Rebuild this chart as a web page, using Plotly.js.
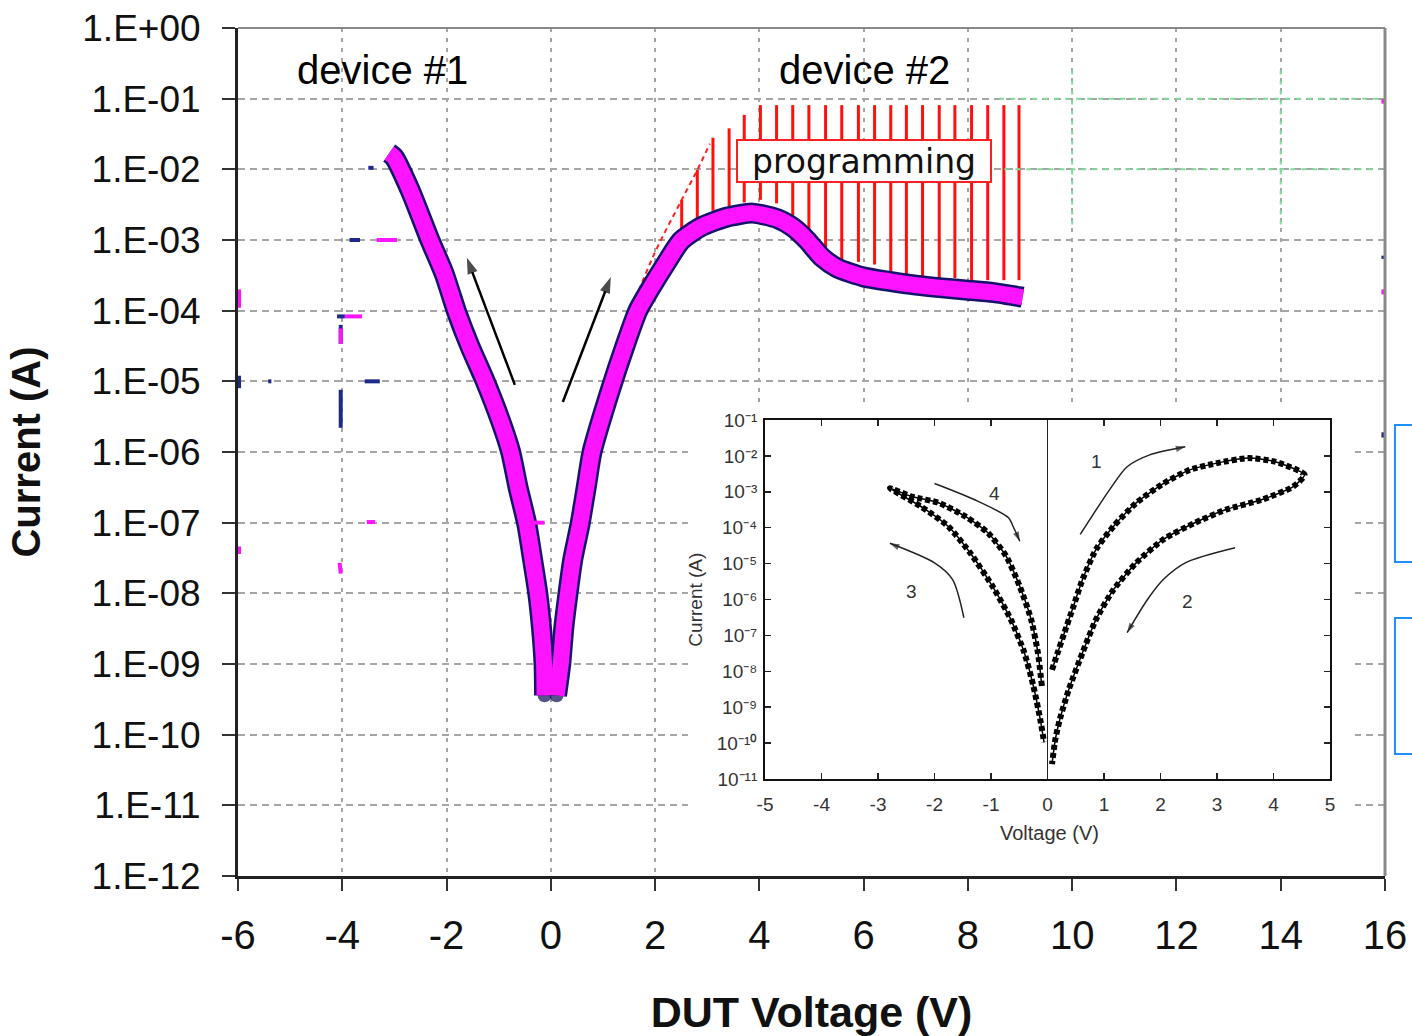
<!DOCTYPE html>
<html>
<head>
<meta charset="utf-8">
<script src="https://cdn.plot.ly/plotly-3.0.1.min.js"></script>
<style>html,body{margin:0;padding:0;background:#fff;}#chart{width:1412px;height:1036px;}</style>
</head>
<body>
<div id="chart"></div>
<script>
// ---------------- DATA ----------------
// Main plot: device sweep, negative branch (V, A)
const negSweepV = [-3.10, -3.01, -2.70, -2.32, -2.05, -1.80, -1.55, -1.27, -0.96, -0.77, -0.63, -0.46, -0.35, -0.25, -0.18, -0.13, -0.12];
const negSweepI = [1.7e-2, 1.5e-2, 5.1e-3, 1.0e-3, 3.4e-4, 9.3e-5, 3.1e-5, 1.05e-5, 2.7e-6, 1.0e-6, 3.2e-7, 9.5e-8, 3.0e-8, 1.0e-8, 3.3e-9, 1.0e-9, 3.6e-10];
// Main plot: positive branch (device #1 -> device #2 programming)
const posSweepV = [0.11, 0.19, 0.25, 0.33, 0.42, 0.56, 0.68, 0.79, 1.15, 1.43, 1.67, 1.95, 2.17, 2.50, 2.89, 3.37, 3.87, 4.35, 4.65, 4.91, 5.20, 5.50, 6.00, 6.50, 7.00, 7.50, 8.00, 8.50, 9.05];
const posSweepI = [3.6e-10, 1.0e-9, 3.3e-9, 1.0e-8, 3.0e-8, 9.5e-8, 3.2e-7, 1.0e-6, 7.9e-6, 3.3e-5, 1.0e-4, 2.3e-4, 4.2e-4, 9.8e-4, 1.55e-3, 2.1e-3, 2.4e-3, 2.0e-3, 1.5e-3, 1.0e-3, 5.7e-4, 4.0e-4, 3.0e-4, 2.6e-4, 2.3e-4, 2.1e-4, 1.95e-4, 1.8e-4, 1.55e-4];
// Red dashed compliance guide
const guideV = [0.12, 0.35, 0.70, 1.10, 1.46, 1.96, 2.51, 2.81, 3.05];
const guideI = [5.0e-10, 3.2e-8, 7.9e-7, 1.0e-5, 6.8e-5, 5.8e-4, 3.7e-3, 9.8e-3, 2.3e-2];
// Red "programming" hatch lines (V, top current, bottom current)
const hatchV = [2.51, 2.81, 3.11, 3.42, 3.71, 4.02, 4.33, 4.64, 4.95, 5.27, 5.58, 5.90, 6.21, 6.52, 6.82, 7.13, 7.45, 7.75, 8.07, 8.38, 8.69, 8.98];
const hatchTop = [3.7e-3, 9.8e-3, 2.8e-2, 3.8e-2, 5.9e-2, 8.1e-2, 8.1e-2, 8.1e-2, 8.1e-2, 8.1e-2, 8.1e-2, 8.1e-2, 8.1e-2, 8.1e-2, 8.1e-2, 8.1e-2, 8.1e-2, 8.1e-2, 8.1e-2, 8.1e-2, 8.1e-2, 8.1e-2];
const hatchBottom = [1.3e-3, 2.0e-3, 2.6e-3, 3.0e-3, 3.4e-3, 3.7e-3, 3.3e-3, 2.2e-3, 1.4e-3, 7.9e-4, 4.9e-4, 4.9e-4, 4.5e-4, 3.5e-4, 3.3e-4, 3.1e-4, 2.9e-4, 2.9e-4, 2.7e-4, 2.7e-4, 2.7e-4, 2.7e-4];
// Stray readings
const strayNavyV = [-3.86, -3.66, null, -4.10, -3.95, null, -4.03, -4.03, null, -4.03, -4.03, null, -5.42, -5.36, null, -3.57, -3.28, null, -3.50, -3.40, null, -5.98, -5.98, null, 15.97, 15.97, null, 15.97, 15.97];
const strayNavyI = [1e-3, 1e-3, null, 8.3e-5, 8.3e-5, null, 6.3e-5, 3.4e-5, null, 7.6e-6, 2.2e-6, null, 1e-5, 1e-5, null, 1e-5, 1e-5, null, 1.05e-2, 1.05e-2, null, 1.2e-5, 8e-6, null, 1.9e-6, 1.6e-6, null, 6.0e-4, 5.4e-4];
const strayMagV = [-3.34, -2.95, null, -3.95, -3.62, null, -4.03, -4.03, null, -3.53, -3.37, null, -4.05, -4.03, null, -0.36, -0.12, null, -5.98, -5.98, null, -5.98, -5.98, null, 15.97, 15.97, null, 15.97, 15.97];
const strayMagI = [1e-3, 1e-3, null, 8.3e-5, 8.3e-5, null, 5.6e-5, 3.4e-5, null, 1.02e-7, 1.02e-7, null, 2.7e-8, 1.9e-8, null, 1e-7, 1e-7, null, 2.0e-4, 1.1e-4, null, 4.6e-8, 3.6e-8, null, 0.098, 0.085, null, 2.0e-4, 1.7e-4];
// Main sweep-direction arrows (tail -> head)
const mainArrow1V = [-0.69, -1.61];
const mainArrow1I = [8.9e-6, 5.6e-4];
const mainArrow2V = [0.23, 1.15];
const mainArrow2I = [5.1e-6, 3.0e-4];
// Main axis ticks
const xTicks = [-6, -4, -2, 0, 2, 4, 6, 8, 10, 12, 14, 16];
const yTickVals = [1, 1e-1, 1e-2, 1e-3, 1e-4, 1e-5, 1e-6, 1e-7, 1e-8, 1e-9, 1e-10, 1e-11, 1e-12];
const yTickText = ['1.E+00', '1.E-01', '1.E-02', '1.E-03', '1.E-04', '1.E-05', '1.E-06', '1.E-07', '1.E-08', '1.E-09', '1.E-10', '1.E-11', '1.E-12'];

// Inset: bipolar hysteresis loops
const insetPosV = [0.08, 0.18, 0.30, 0.46, 0.62, 0.86, 1.17, 1.57, 2.05, 2.52, 3.00, 3.56, 4.03, 4.55, 4.35, 3.79, 3.16, 2.60, 2.05, 1.57, 1.17, 0.86, 0.62, 0.38, 0.22, 0.14, 0.08];
const insetPosI = [1.1e-8, 3.3e-8, 1.2e-7, 6.5e-7, 3.6e-6, 2.5e-5, 1.1e-4, 4.9e-4, 1.7e-3, 4.1e-3, 6.3e-3, 8.7e-3, 6.9e-3, 3.0e-3, 1.4e-3, 6.0e-4, 3.2e-4, 1.35e-4, 4.7e-5, 1.05e-5, 1.9e-6, 2.8e-7, 3.3e-8, 3.2e-9, 4.7e-10, 1.3e-10, 2.6e-11];
const insetNegV = [-0.10, -0.17, -0.29, -0.49, -0.73, -1.05, -1.44, -1.92, -2.40, -2.79, -2.24, -1.76, -1.37, -0.97, -0.65, -0.41, -0.25, -0.13, -0.06];
const insetNegI = [3.9e-9, 3.3e-8, 2.8e-7, 2.3e-6, 1.6e-5, 7.1e-5, 2.0e-4, 4.9e-4, 7.4e-4, 1.26e-3, 3.9e-4, 1.1e-4, 2.0e-5, 2.3e-6, 2.8e-7, 3.3e-8, 3.9e-9, 4.7e-10, 1.05e-10];
const insetXTicks = [-5, -4, -3, -2, -1, 0, 1, 2, 3, 4, 5];
const insetYVals = [1e-1, 1e-2, 1e-3, 1e-4, 1e-5, 1e-6, 1e-7, 1e-8, 1e-9, 1e-10, 1e-11];
const insetYText = ['10⁻¹', '10⁻²', '10⁻³', '10⁻⁴', '10⁻⁵', '10⁻⁶', '10⁻⁷', '10⁻⁸', '10⁻⁹', '10⁻¹⁰', '10⁻¹¹'];
// Inset sweep-direction arrows
const arrow1V = [0.58, 1.10, 1.41, 1.81, 2.44];
const arrow1I = [6.5e-5, 1.15e-3, 5.0e-3, 1.07e-2, 1.8e-2];
const arrow2V = [3.32, 2.44, 2.05, 1.77, 1.41];
const arrow2I = [2.75e-5, 1.05e-5, 3.6e-6, 1.0e-6, 1.2e-7];
const arrow3V = [-1.48, -1.68, -2.00, -2.79];
const arrow3I = [3.1e-7, 3.6e-6, 1.05e-5, 3.7e-5];
const arrow4V = [-2.00, -1.29, -0.69, -0.61, -0.49];
const arrow4I = [1.7e-3, 6.0e-4, 1.9e-4, 1.1e-4, 4.2e-5];
const arrowLabels = ['1', '2', '3', '4'];
const arrowLabelV = [0.86, 2.48, -2.40, -0.93];
const arrowLabelI = [6.9e-3, 8.9e-7, 1.7e-6, 9.1e-4];

// ---------------- BUILD ----------------
const FONT = 'Liberation Sans, Arial, Helvetica, sans-serif';
const hatchX = [], hatchY = [];
hatchV.forEach((v, i) => { hatchX.push(v, v, null); hatchY.push(hatchBottom[i], hatchTop[i], null); });

function arrowTrace(vv, ii, axes, lineW, headSize, color, smooth) {
  const n = vv.length;
  return {
    x: vv, y: ii, xaxis: axes[0], yaxis: axes[1], type: 'scatter', mode: 'lines+markers',
    line: {color: color, width: lineW, shape: smooth ? 'spline' : 'linear', smoothing: 0.8},
    marker: {symbol: vv.map((_, k) => k === n - 1 ? 'arrow' : 'circle'), size: vv.map((_, k) => k === n - 1 ? headSize : 0),
             angleref: 'previous', color: color, line: {width: 0}},
    showlegend: false, hoverinfo: 'skip'
  };
}
// end-point dots for the outline traces (rounded bottoms of the V)
function endDots(vv, which) {
  const n = vv.length;
  return vv.map((_, k) => (which === 'last' ? k === n - 1 : k === 0) ? 14 : 0);
}

const SM = 0.6;
const traces = [
  {x: [], y: [], xaxis: 'x2', yaxis: 'y2', type: 'scatter', showlegend: false, hoverinfo: 'skip'},
  {x: hatchX, y: hatchY, type: 'scatter', mode: 'lines', line: {color: '#ff1010', width: 3}, name: 'programming', hoverinfo: 'skip'},
  {x: guideV, y: guideI, type: 'scatter', mode: 'lines', line: {color: '#ff2020', width: 2, dash: '5px,4px', shape: 'spline'}, name: 'compliance'},
  {x: negSweepV, y: negSweepI, type: 'scatter', mode: 'lines+markers', line: {color: '#14146e', width: 21, shape: 'spline', smoothing: SM},
   marker: {color: '#0c0c5a', size: endDots(negSweepV, 'last'), line: {width: 0}}, name: 'sweep - (outline)'},
  {x: posSweepV, y: posSweepI, type: 'scatter', mode: 'lines+markers', line: {color: '#14146e', width: 21, shape: 'spline', smoothing: SM},
   marker: {color: '#0c0c5a', size: endDots(posSweepV, 'first'), line: {width: 0}}, name: 'sweep + (outline)'},
  {x: negSweepV, y: negSweepI, type: 'scatter', mode: 'lines', line: {color: '#ff14ff', width: 16, shape: 'spline', smoothing: SM}, name: 'sweep -'},
  {x: posSweepV, y: posSweepI, type: 'scatter', mode: 'lines', line: {color: '#ff14ff', width: 16, shape: 'spline', smoothing: SM}, name: 'sweep +'},
  {x: strayNavyV, y: strayNavyI, type: 'scatter', mode: 'lines', line: {color: '#1e2a8a', width: 4}, name: 'stray', connectgaps: false},
  {x: strayMagV, y: strayMagI, type: 'scatter', mode: 'lines', line: {color: '#ff14ff', width: 4}, name: 'stray m', connectgaps: false},
  arrowTrace(mainArrow1V, mainArrow1I, ['x', 'y'], 2.5, 17, '#000', false),
  arrowTrace(mainArrow2V, mainArrow2I, ['x', 'y'], 2.5, 17, '#000', false),
  // inset
  {x: insetPosV, y: insetPosI, xaxis: 'x3', yaxis: 'y3', type: 'scatter', mode: 'lines', line: {color: '#000', width: 1.5, shape: 'spline', smoothing: 0.6}, name: 'pos loop'},
  {x: insetPosV, y: insetPosI, xaxis: 'x3', yaxis: 'y3', type: 'scatter', mode: 'lines', line: {color: '#000', width: 6, dash: '5px,3px', shape: 'spline', smoothing: 0.6}, name: 'pos loop dots'},
  {x: insetNegV, y: insetNegI, xaxis: 'x3', yaxis: 'y3', type: 'scatter', mode: 'lines', line: {color: '#000', width: 1.5, shape: 'spline', smoothing: 0.6}, name: 'neg loop'},
  {x: insetNegV, y: insetNegI, xaxis: 'x3', yaxis: 'y3', type: 'scatter', mode: 'lines', line: {color: '#000', width: 6, dash: '5px,3px', shape: 'spline', smoothing: 0.6}, name: 'neg loop dots'},
  arrowTrace(arrow1V, arrow1I, ['x3', 'y3'], 1.5, 10, '#222', true),
  arrowTrace(arrow2V, arrow2I, ['x3', 'y3'], 1.5, 10, '#222', true),
  arrowTrace(arrow3V, arrow3I, ['x3', 'y3'], 1.5, 10, '#222', true),
  arrowTrace(arrow4V, arrow4I, ['x3', 'y3'], 1.5, 10, '#222', true)
];

const annotations = [
  {x: -3.22, y: -0.59, xref: 'x', yref: 'y', text: 'device #1', showarrow: false, font: {family: FONT, size: 40, color: '#000'}},
  {x: 6.02, y: -0.59, xref: 'x', yref: 'y', text: 'device #2', showarrow: false, font: {family: FONT, size: 40, color: '#000'}},
  {x: 6.01, y: -1.88, xref: 'x', yref: 'y', text: 'programming', showarrow: false, font: {family: 'DejaVu Sans, sans-serif', size: 33, color: '#111'},
   bgcolor: '#ffffff', bordercolor: '#ff2020', borderwidth: 2, borderpad: 0, width: 252, height: 40},
  {x: 0.7071, y: 0.0507, xref: 'paper', yref: 'paper', yanchor: 'middle', xanchor: 'center', text: 'Voltage (V)', showarrow: false, font: {family: FONT, size: 20, color: '#333'}},
  {x: 0.399, y: 0.3255, xref: 'paper', yref: 'paper', yanchor: 'middle', xanchor: 'center', text: 'Current (A)', textangle: -90, showarrow: false, font: {family: FONT, size: 19, color: '#333'}}
];
arrowLabels.forEach((t, i) => {
  annotations.push({x: arrowLabelV[i], y: Math.log10(arrowLabelI[i]), xref: 'x3', yref: 'y3', text: t, showarrow: false, font: {family: FONT, size: 19, color: '#333'}});
});

const shapes = [
  {type: 'line', xref: 'paper', yref: 'paper', x0: 0, x1: 1, y0: 1, y1: 1, line: {color: '#8a8a8a', width: 2}, layer: 'above'},
  {type: 'line', xref: 'paper', yref: 'paper', x0: 1, x1: 1, y0: 0, y1: 1, line: {color: '#8a8a8a', width: 3}, layer: 'above'},
  // green dotted overlays (upper right)
  {type: 'line', xref: 'x', yref: 'y', x0: 8.6, x1: 15.95, y0: 0.1, y1: 0.1, line: {color: '#7fdc9a', width: 2, dash: '5px,6px'}, layer: 'above'},
  {type: 'line', xref: 'x', yref: 'y', x0: 8.7, x1: 15.9, y0: 0.01, y1: 0.01, line: {color: '#7fdc9a', width: 2, dash: '5px,6px'}, layer: 'above'},
  {type: 'line', xref: 'x', yref: 'y', x0: 10, x1: 10, y0: 0.25, y1: 0.0015, line: {color: '#7fdc9a', width: 2, dash: '4px,6px'}, layer: 'above'},
  {type: 'line', xref: 'x', yref: 'y', x0: 14, x1: 14, y0: 0.25, y1: 0.0015, line: {color: '#7fdc9a', width: 2, dash: '4px,6px'}, layer: 'above'},
  // partially visible blue frames at right edge
  {type: 'rect', xref: 'paper', yref: 'paper', x0: 1.0087, x1: 1.05, y0: 0.3703, y1: 0.5318, line: {color: '#1e8fff', width: 2}},
  {type: 'rect', xref: 'paper', yref: 'paper', x0: 1.0087, x1: 1.05, y0: 0.1439, y1: 0.3042, line: {color: '#1e8fff', width: 2}}
];

const layout = {
  width: 1412, height: 1036,
  margin: {l: 238, r: 27, t: 28, b: 160, pad: 0},
  paper_bgcolor: '#ffffff', plot_bgcolor: '#ffffff',
  showlegend: false,
  xaxis: {
    domain: [0, 1], anchor: 'y', range: [-6, 16], tickvals: xTicks, ticktext: xTicks.map(String),
    ticks: 'outside', ticklen: 12, tickwidth: 2, tickcolor: '#333', ticklabelstandoff: 10,
    showline: true, linecolor: '#222', linewidth: 3, zeroline: false,
    showgrid: true, gridcolor: '#a6a6a6', gridwidth: 2, griddash: '4px,6px',
    tickfont: {family: FONT, size: 40, color: '#111'},
    title: {text: 'DUT Voltage (V)', font: {family: FONT, size: 43, color: '#111', weight: 700}, standoff: 46}
  },
  yaxis: {
    domain: [0, 1], anchor: 'x', type: 'log', range: [-12, 0], tickvals: yTickVals, ticktext: yTickText,
    ticks: 'outside', ticklen: 13, tickwidth: 2, tickcolor: '#333', ticklabelstandoff: 14,
    showline: true, linecolor: '#222', linewidth: 3, zeroline: false,
    showgrid: true, gridcolor: '#a6a6a6', gridwidth: 2, griddash: '7px,5px',
    tickfont: {family: FONT, size: 37, color: '#111'},
    title: {text: 'Current (A)', font: {family: FONT, size: 40, color: '#111', weight: 700}, standoff: 30}
  },
  // white cover behind the inset
  xaxis2: {domain: [0.3923, 0.9738], anchor: 'y2', range: [0, 1], visible: false, fixedrange: true},
  yaxis2: {domain: [0.004, 0.555], anchor: 'x2', range: [0, 1], visible: false, fixedrange: true},
  // inset
  xaxis3: {
    domain: [0.4595, 0.952], anchor: 'y3', range: [-5, 5], tickvals: insetXTicks, ticktext: insetXTicks.map(String),
    ticks: 'inside', ticklen: 6, tickwidth: 1.5, tickcolor: '#222', mirror: 'ticks', ticklabelstandoff: 7,
    showline: true, linecolor: '#111', linewidth: 2, showgrid: false,
    zeroline: true, zerolinecolor: '#222', zerolinewidth: 1.5,
    tickfont: {family: FONT, size: 19, color: '#333'}
  },
  yaxis3: {
    domain: [0.1144, 0.5377], anchor: 'x3', type: 'log', range: [-11, -1], tickvals: insetYVals, ticktext: insetYText,
    ticks: 'inside', ticklen: 6, tickwidth: 1.5, tickcolor: '#222', mirror: 'ticks', ticklabelstandoff: 2,
    showline: true, linecolor: '#111', linewidth: 2, showgrid: false, zeroline: false,
    tickfont: {family: FONT, size: 19, color: '#333'}
  },
  annotations: annotations,
  shapes: shapes
};

Plotly.newPlot('chart', traces, layout, {displayModeBar: false, staticPlot: true});
</script>
</body>
</html>
